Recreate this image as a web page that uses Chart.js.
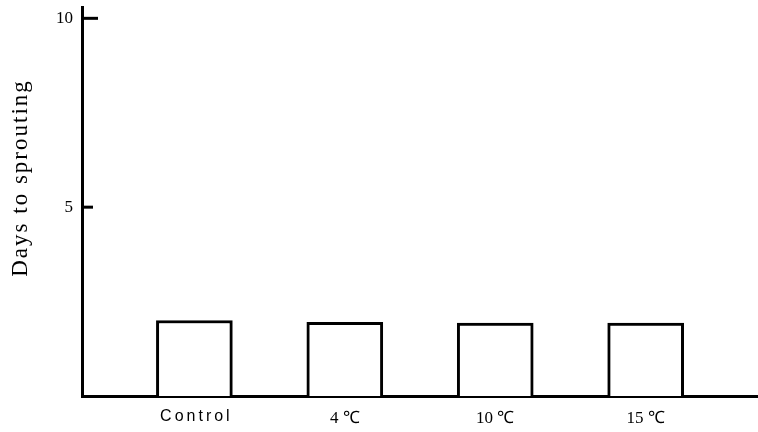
<!DOCTYPE html>
<html>
<head>
<meta charset="utf-8">
<script src="https://cdn.jsdelivr.net/npm/chart.js@4/dist/chart.umd.min.js"></script>
<style>
  html, body { margin: 0; padding: 0; background: #fff; }
  #wrap { width: 758px; height: 432px; }
</style>
</head>
<body>
<div id="wrap"><canvas id="chart"></canvas></div>
<script>
// values
const treatments = ['Control', '4 \u2103', '10 \u2103', '15 \u2103'];
const daysToSprouting = [2.0, 1.95, 1.93, 1.93];
const yTicks = [5, 10];
const yTitle = 'Days to sprouting';

// inward tick marks, spaced-out "Control" label and the y title
const extras = {
  id: 'extras',
  afterDraw(chart) {
    const ctx = chart.ctx, y = chart.scales.y, x = chart.scales.x;
    ctx.save();
    ctx.strokeStyle = '#000';
    ctx.lineWidth = 3;
    yTicks.forEach((v, i) => {
      const py = y.getPixelForValue(v);
      const len = i === yTicks.length - 1 ? 16 : 11;
      ctx.beginPath();
      ctx.moveTo(y.right, py);
      ctx.lineTo(y.right + len, py);
      ctx.stroke();
    });

    ctx.fillStyle = '#000';
    ctx.textAlign = 'center';
    ctx.textBaseline = 'middle';
    ctx.font = '16px "Liberation Sans"';
    ctx.letterSpacing = '3px';
    ctx.fillText(treatments[0], x.getPixelForValue(1) + 2, chart.chartArea.bottom + 21);

    ctx.letterSpacing = '2px';
    ctx.font = '23px "Liberation Serif"';
    ctx.translate(21, 178);
    ctx.rotate(-Math.PI / 2);
    ctx.fillText(yTitle, 0, 0);
    ctx.restore();
  }
};

new Chart(document.getElementById('chart'), {
  type: 'bar',
  data: {
    datasets: [{
      data: daysToSprouting.map((d, i) => ({ x: i + 1, y: d })),
      backgroundColor: '#fff',
      borderColor: '#000',
      borderWidth: 3,
      barThickness: 76,
      borderSkipped: 'bottom'
    }]
  },
  options: {
    responsive: true,
    maintainAspectRatio: false,
    animation: false,
    layout: { padding: { top: 7, right: 1, left: 0, bottom: 0 } },
    plugins: { legend: { display: false }, tooltip: { enabled: false } },
    scales: {
      x: {
        type: 'linear',
        offset: false,
        min: 0.253,
        max: 4.74,
        afterBuildTicks: s => { s.ticks = treatments.map((t, i) => ({ value: i + 1 })); },
        afterFit: s => { s.height = 36; s.paddingLeft = 0; s.paddingRight = 0; },
        ticks: {
          autoSkip: false,
          maxRotation: 0,
          padding: 12,
          color: c => c.index === 0 ? 'rgba(0,0,0,0)' : '#000',
          font: { family: 'Liberation Serif', size: 17 },
          callback: v => treatments[v - 1]
        },
        grid: { display: true, drawOnChartArea: false, drawTicks: false },
        border: { color: '#000', width: 3 }
      },
      y: {
        min: 0,
        max: 10.3,
        afterBuildTicks: s => { s.ticks = yTicks.map(v => ({ value: v })); },
        afterFit: s => { s.width = 82; s.paddingTop = 0; s.paddingBottom = 0; },
        ticks: {
          padding: 9,
          color: '#000',
          font: { family: 'Liberation Serif', size: 17 }
        },
        grid: { display: true, drawOnChartArea: false, drawTicks: false },
        border: { color: '#000', width: 3 }
      }
    }
  },
  plugins: [extras]
});
</script>
</body>
</html>
